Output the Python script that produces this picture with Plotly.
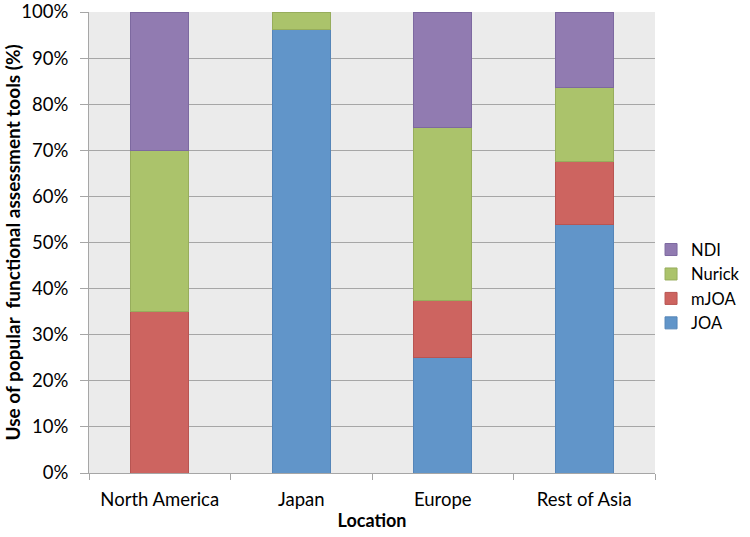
import plotly.graph_objects as go

categories = ["North America", "Japan", "Europe", "Rest of Asia"]
joa = [0, 96.3, 25, 54.0]
mjoa = [35, 0, 12.5, 13.5]
nurick = [35, 3.7, 37.5, 16.1]
ndi = [30, 0, 25, 16.4]
y_ticks = [0, 10, 20, 30, 40, 50, 60, 70, 80, 90, 100]
y_tick_labels = [f"{v}%" for v in y_ticks]

series = [
    ("JOA", joa, "#6195C9", "#5585B8"),
    ("mJOA", mjoa, "#CD6460", "#B85552"),
    ("Nurick", nurick, "#ABC36B", "#97AD5C"),
    ("NDI", ndi, "#917BB1", "#7D69A0"),
]

font_family = "Lato, 'Open Sans', sans-serif"

fig = go.Figure()
for name, vals, fill, edge in series:
    fig.add_trace(go.Bar(
        x=categories,
        y=[v if v else None for v in vals],
        name=name,
        width=0.41,
        marker=dict(color=fill, line=dict(color=edge, width=1)),
    ))

fig.update_layout(
    width=750, height=537,
    barmode="stack",
    plot_bgcolor="#EBEBEB",
    paper_bgcolor="white",
    margin=dict(l=89, r=95, t=12, b=64, autoexpand=False),
    font=dict(family=font_family, size=18.5, color="black"),
    legend=dict(
        x=0.993, xanchor="left", y=0.405, yanchor="middle",
        traceorder="reversed",
        font=dict(size=16.5),
        itemwidth=30,
        tracegroupgap=0,
        bgcolor="rgba(0,0,0,0)",
    ),
    showlegend=True,
    annotations=[dict(
        text="<b>Use of popular  functional assessment tools (%)</b>",
        xref="paper", yref="paper",
        x=(12 - 89) / 566, y=0.5,
        xanchor="center", yanchor="middle",
        textangle=-90, showarrow=False,
        font=dict(size=19),
    )],
)

fig.update_yaxes(
    range=[0, 100],
    tickvals=y_ticks,
    ticktext=y_tick_labels,
    ticklabeloverflow="allow",
    showgrid=True, gridcolor="#A6A6A6", gridwidth=1,
    showline=True, linecolor="#A6A6A6", linewidth=1,
    ticks="outside", ticklen=8, tickcolor="#A6A6A6",
    ticklabelstandoff=8,
    zeroline=False,
)
fig.update_xaxes(
    showline=True, linecolor="#A6A6A6", linewidth=1,
    ticks="outside", ticklen=6, tickcolor="#A6A6A6",
    tickson="boundaries",
    ticklabelstandoff=10,
    ticklabeloverflow="allow",
    showgrid=False,
    title=dict(text="<b>Location</b>", font=dict(size=18), standoff=5),
)

fig.write_html("out.html", config={"displayModeBar": False},
               post_script="document.body.style.margin='0';")
